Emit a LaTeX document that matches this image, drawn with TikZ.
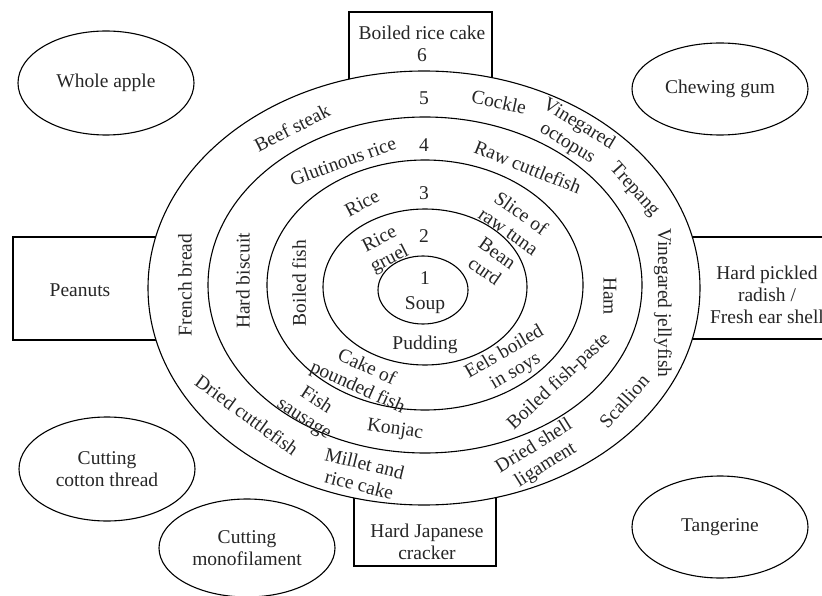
\documentclass[tikz,border=0pt]{standalone}
\usepackage{fontspec}
\setmainfont{Liberation Serif}
\usetikzlibrary{shapes.geometric}
\begin{document}
\begin{tikzpicture}[x={(1pt,0)},y={(0,-1pt)},
  line width=1.1pt,
  every node/.style={font=\fontsize{19.5}{22}\selectfont, text=black!85, inner sep=0pt, align=center},
  oval/.style={draw, ellipse, minimum width=176pt},
  boxline/.style={draw, fill=white}
]
\useasboundingbox (0,0) rectangle (822,596);
\clip (0,0) rectangle (822,596);
% boxes behind the big ellipse
\draw[boxline] (349,12) rectangle (492,110);
\draw[boxline] (13,237) rectangle (200,340);
\draw[boxline] (650,237) rectangle (840,339);
\draw[boxline] (354,470) rectangle (496,566);
\node (b6) at (422,44) {Boiled rice cake\\6};
\node (bpe) at (80,290) {Peanuts};
\node (brad) at (767,295) {Hard pickled\\radish /\\Fresh ear shell};
\node (bcr) at (427,542) {Hard Japanese\\cracker};
% rings
\draw[fill=white] (424,288) ellipse [x radius=276pt, y radius=217pt];
\draw (425,285) ellipse [x radius=217pt, y radius=168pt];
\draw (425,285) ellipse [x radius=158pt, y radius=125pt];
\draw (425,287) ellipse [x radius=102pt, y radius=78pt];
\draw (423,290) ellipse [x radius=45pt, y radius=34pt];
% numbers
\node (n5) at (424,98) {5};
\node (n4) at (424,145) {4};
\node (n3) at (424,193) {3};
\node (n2) at (424,236) {2};
\node (n1) at (425,278) {1};
\node (soup) at (425,305) {Soup};
% ring 5
\node[rotate=27] (beef) at (292,128) {Beef steak};
\node[rotate=-12] (cockle) at (499,102) {Cockle};
\node[rotate=-31] (vocto) at (573,134) {Vinegared\\octopus};
\node[rotate=-48] (trep) at (634,190) {Trepang};
\node[rotate=-90] (vjelly) at (663,303) {Vinegared jellyfish};
\node[rotate=48] (scal) at (624,401) {Scallion};
\node[rotate=32] (dshell) at (540,456) {Dried shell\\ligament};
\node[rotate=-14] (millet) at (362,474) {Millet and\\rice cake};
\node[rotate=-36] (dcut) at (247,415) {Dried cuttlefish};
\node[rotate=90] (fbread) at (185,285) {French bread};
% ring 4
\node[rotate=20] (glut) at (343,161) {Glutinous rice};
\node[rotate=-22] (rawc) at (528,167) {Raw cuttlefish};
\node[rotate=-90] (ham) at (610,296) {Ham};
\node[rotate=43] (bfp) at (559,382) {Boiled fish-paste};
\node[rotate=-8] (konj) at (395,430) {Konjac};
\node[rotate=-33] (fsaus) at (310,410) {Fish\\sausage};
\node[rotate=90] (hbisc) at (243,281) {Hard biscuit};
% ring 3
\node[rotate=28] (rice) at (362,203) {Rice};
\node[rotate=-35] (tuna) at (515,222) {Slice of\\raw tuna};
\node[rotate=90] (bfish) at (299,283) {Boiled fish};
\node[rotate=-24] (cake) at (362,378) {Cake of\\pounded fish};
\node[rotate=30] (eels) at (510,362) {Eels boiled\\in soys};
% ring 2
\node[rotate=27] (gruel) at (385,250) {Rice\\gruel};
\node[rotate=-35] (bean) at (491,262) {Bean\\curd};
\node (pud) at (425,345) {Pudding};
% outer ovals
\node[oval, minimum height=104pt] (apple) at (106,83) {Whole apple};
\node[oval, minimum height=92pt] (gum) at (720,89) {Chewing gum};
\node[oval, minimum height=104pt] (cotton) at (107,469) {Cutting\\cotton thread};
\node[oval, minimum height=98pt] (mono) at (247,548) {Cutting\\monofilament};
\node[oval, minimum height=102pt] (tang) at (720,527) {Tangerine};
\end{tikzpicture}
\end{document}
